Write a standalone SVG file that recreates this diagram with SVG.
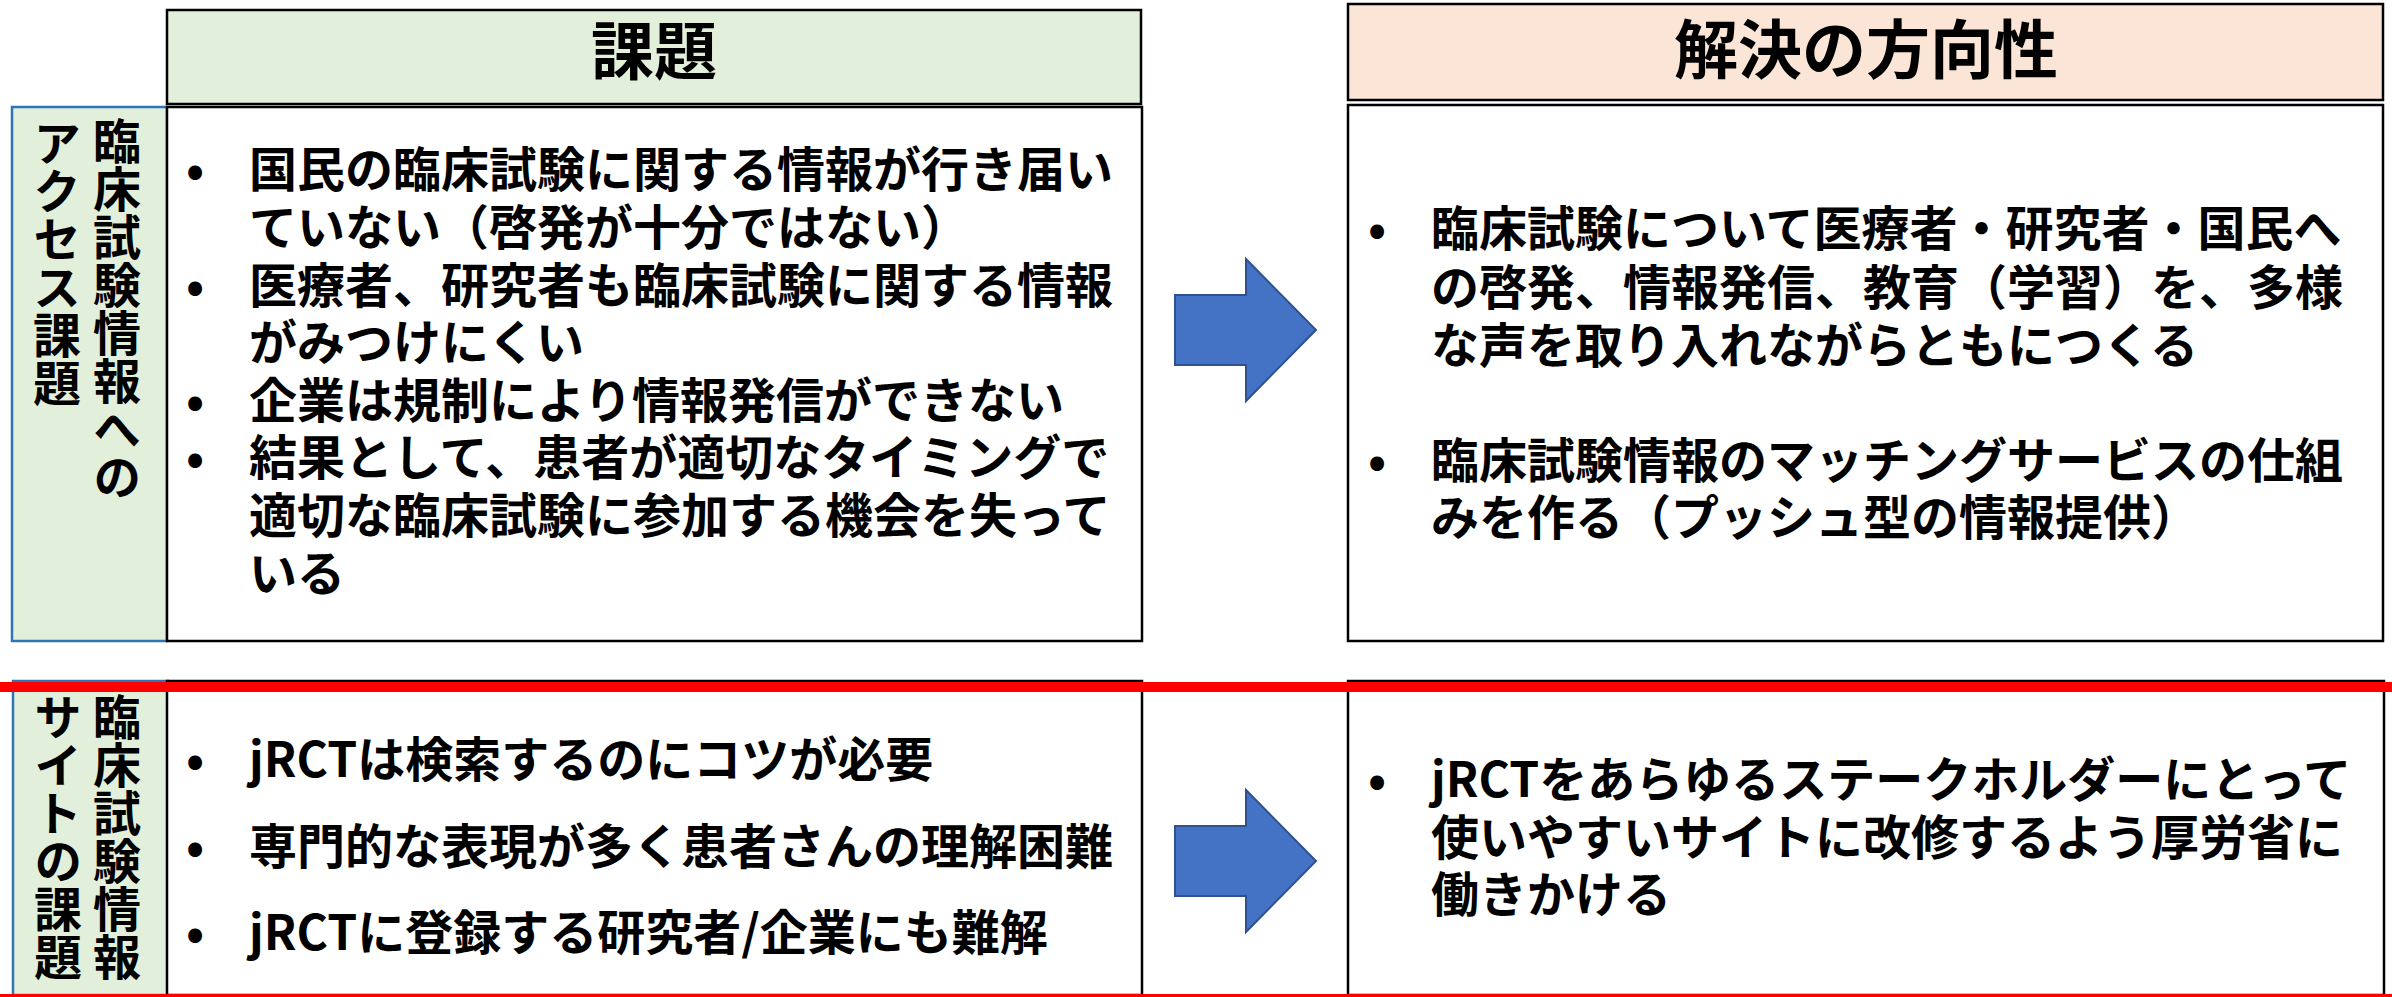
<svg xmlns="http://www.w3.org/2000/svg" width="2392" height="997" viewBox="0 0 2392 997">
<style>
  text { font-family: "Noto Sans CJK JP", "Noto Sans", sans-serif; font-weight: 700; fill: #000; }
  .body { font-size: 48px; }
  .head { font-size: 63px; text-anchor: middle; }
  .box { fill: #fff; stroke: #000; stroke-width: 2.5; }
  .green { fill: #E2EFDA; stroke: #000; stroke-width: 2.5; }
  .peach { fill: #FBE5D6; stroke: #000; stroke-width: 2.5; }
  .side { fill: #E2EFDA; stroke: #2E75B6; stroke-width: 2.5; }
  .arrow { fill: #4472C4; stroke: #2F528F; stroke-width: 2; }
  .vt { font-size: 48px; writing-mode: vertical-rl; }
</style>
<rect width="2392" height="997" fill="#fff"/>

<g id="header-issues">
  <rect class="green" x="167" y="10" width="974" height="94"/>
  <text class="head" x="654" y="74">課題</text>
</g>
<g id="header-solutions">
  <rect class="peach" x="1348" y="4" width="1035" height="96"/>
  <text class="head" x="1866" y="73" style="font-size:64px">解決の方向性</text>
</g>

<g id="side-access">
  <rect class="side" x="12" y="107" width="155" height="534"/>
  <text class="vt" x="117" y="117">臨床試験情報への</text>
  <text class="vt" x="57" y="119">アクセス課題</text>
</g>

<g id="issues-access">
  <rect class="box" x="167" y="107" width="975" height="534"/>
  <text class="body">
    <tspan x="186" y="187">•</tspan><tspan x="249" y="187">国民の臨床試験に関する情報が行き届い</tspan>
    <tspan x="249" y="245">ていない（啓発が十分ではない）</tspan>
    <tspan x="186" y="303">•</tspan><tspan x="249" y="303">医療者、研究者も臨床試験に関する情報</tspan>
    <tspan x="249" y="360">がみつけにくい</tspan>
    <tspan x="186" y="418">•</tspan><tspan x="249" y="418">企業は規制により情報発信ができない</tspan>
    <tspan x="186" y="475">•</tspan><tspan x="249" y="475">結果として、患者が適切なタイミングで</tspan>
    <tspan x="249" y="533">適切な臨床試験に参加する機会を失って</tspan>
    <tspan x="249" y="591">いる</tspan>
  </text>
</g>

<g id="solutions-access">
  <rect class="box" x="1348" y="105" width="1035" height="536"/>
  <text class="body">
    <tspan x="1368" y="246">•</tspan><tspan x="1431" y="246">臨床試験について医療者・研究者・国民へ</tspan>
    <tspan x="1431" y="305">の啓発、情報発信、教育（学習）を、多様</tspan>
    <tspan x="1431" y="363">な声を取り入れながらともにつくる</tspan>
    <tspan x="1368" y="478">•</tspan><tspan x="1431" y="478">臨床試験情報のマッチングサービスの仕組</tspan>
    <tspan x="1431" y="535">みを作る（プッシュ型の情報提供）</tspan>
  </text>
</g>

<g id="side-site">
  <rect class="side" x="13" y="681" width="155" height="314"/>
  <text class="vt" x="117" y="693">臨床試験情報</text>
  <text class="vt" x="58" y="693">サイトの課題</text>
</g>

<g id="issues-site">
  <rect class="box" x="167" y="681" width="975" height="314"/>
  <text class="body">
    <tspan x="186" y="777">•</tspan><tspan x="249" y="777">jRCTは検索するのにコツが必要</tspan>
    <tspan x="186" y="864">•</tspan><tspan x="249" y="864">専門的な表現が多く患者さんの理解困難</tspan>
    <tspan x="186" y="950">•</tspan><tspan x="249" y="950">jRCTに登録する研究者/企業にも難解</tspan>
  </text>
</g>

<g id="solutions-site">
  <rect class="box" x="1348" y="681" width="1036" height="314"/>
  <text class="body">
    <tspan x="1368" y="797">•</tspan><tspan x="1431" y="797">jRCTをあらゆるステークホルダーにとって</tspan>
    <tspan x="1431" y="855">使いやすいサイトに改修するよう厚労省に</tspan>
    <tspan x="1431" y="912">働きかける</tspan>
  </text>
</g>

<g id="connectors">
  <path class="arrow" d="M1175,295 H1246 V259 L1316,330 L1246,401 V365 H1175 Z"/>
  <path class="arrow" d="M1175,826 H1246 V790 L1316,861 L1246,932 V896 H1175 Z"/>
</g>

<g id="separators">
  <rect x="0" y="682" width="2392" height="10" fill="#FF0000"/>
  <rect x="0" y="994" width="2392" height="3" fill="#FF0000"/>
</g>
</svg>
